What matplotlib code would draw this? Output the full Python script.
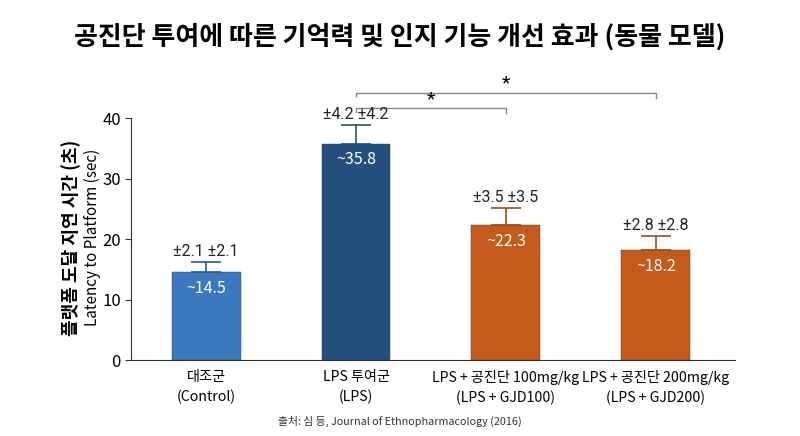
import matplotlib
matplotlib.use("Agg")
from matplotlib import pyplot as plt

plt.rcParams['font.family'] = ['Noto Sans CJK KR', 'DejaVu Sans']
LATIN = ['Roboto', 'DejaVu Sans']

groups = ["대조군\n(Control)", "LPS 투여군\n(LPS)",
          "LPS + 공진단 100mg/kg\n(LPS + GJD100)", "LPS + 공진단 200mg/kg\n(LPS + GJD200)"]
latency = [14.5, 35.8, 22.3, 18.2]
sd_text = [2.1, 4.2, 3.5, 2.8]
err_drawn = [1.7, 3.1, 2.8, 2.3]
bar_colors = ["#3c78bd", "#254f7c", "#c45a1b", "#c45a1b"]
err_colors = ["#2d5a8c", "#2d4f73", "#9a4a1e", "#9a4a1e"]


def main():
    fig = plt.figure(figsize=(8, 4.36), dpi=100)
    ax = fig.add_axes([0.164, 0.174, 0.755, 0.555])
    xs = list(range(len(groups)))

    ax.bar(xs, latency, width=0.46, color=bar_colors, edgecolor="#2a3f55", linewidth=0.3, zorder=2)
    for x, v, e, s, ec in zip(xs, latency, err_drawn, sd_text, err_colors):
        ax.errorbar(x, v, yerr=[[0], [e]], fmt="none", ecolor=ec, elinewidth=1.2,
                    capsize=11, capthick=1.2, zorder=3)
        ax.text(x, v + e + 0.5, f"±{s} ±{s}", ha="center", va="bottom", fontsize=11.5,
                color="#222222", family=LATIN)
        ax.text(x, v - 1.3, f"~{v}", ha="center", va="top", fontsize=11.5, color="white")

    # significance brackets
    def bracket(x0, x1, y, star_y):
        ax.plot([x0, x0, x1, x1], [y, y + 0.6, y + 0.6, y - 0.2], color="#888888", lw=1,
                clip_on=False)
        ax.text((x0 + x1) / 2, star_y, "*", ha="center", va="center", fontsize=14,
                clip_on=False, family=LATIN)

    bracket(1, 2, 41.0, 43.2)
    bracket(1, 3, 43.6, 45.7)

    ax.set_xlim(-0.5, 3.53)
    ax.set_ylim(0, 40)
    ax.set_yticks([0, 10, 20, 30, 40])
    ax.set_xticks(xs)
    ax.set_xticklabels(groups, fontsize=10.2, linespacing=1.5)
    ax.tick_params(axis="x", length=0, pad=7)
    ax.tick_params(axis="y", labelsize=12, length=4, color="#333333")
    for side in ["top", "right"]:
        ax.spines[side].set_visible(False)
    ax.spines["left"].set_color("#333333")
    ax.spines["bottom"].set_color("#333333")

    fig.text(0.089, 0.455, "플랫폼 도달 지연 시간 (초)", rotation=90, ha="center", va="center",
             fontsize=13, fontweight="bold")
    fig.text(0.115, 0.455, "Latency to Platform (sec)", rotation=90, ha="center", va="center",
             fontsize=11)

    fig.suptitle("공진단 투여에 따른 기억력 및 인지 기능 개선 효과 (동물 모델)", x=0.5, y=0.947,
                 fontsize=18.7, fontweight="bold")
    fig.text(0.5, 0.025, "출처: 심 등, Journal of Ethnopharmacology (2016)", ha="center",
             fontsize=7.8, color="#333333")

    fig.savefig("out.png", dpi=100, facecolor="white")


if __name__ == "__main__":
    main()
